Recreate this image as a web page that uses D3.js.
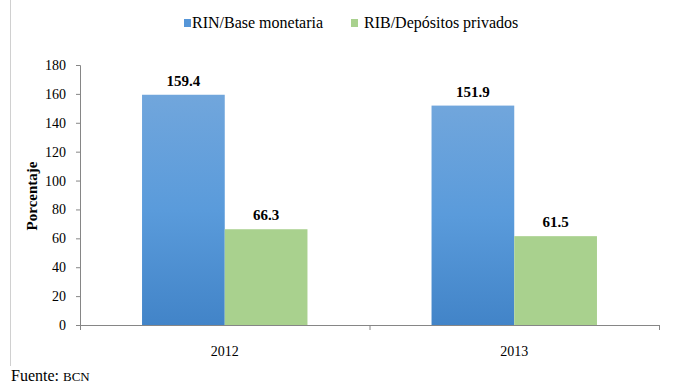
<!DOCTYPE html>
<html>
<head>
<meta charset="utf-8">
<script src="https://cdn.jsdelivr.net/npm/d3@7/dist/d3.min.js"></script>
<style>
  html, body { margin: 0; padding: 0; background: #fff; }
  svg { display: block; }
  text { font-family: "Liberation Serif", "DejaVu Serif", serif; fill: #000; }
</style>
</head>
<body>
<svg id="chart" width="683" height="385"></svg>
<script>
// Reservas internacionales: cobertura por año
const years = ["2012", "2013"];
const seriesNames = ["RIN/Base monetaria", "RIB/Depósitos privados"];
const rinBase = [159.4, 151.9];
const ribDepositos = [66.3, 61.5];
const yTicks = [0, 20, 40, 60, 80, 100, 120, 140, 160, 180];

const svg = d3.select("#chart");
const margin = { left: 80, right: 24, top: 65, bottom: 60 };
const W = 683, H = 385;
const plotW = W - margin.left - margin.right;
const plotH = H - margin.top - margin.bottom;

// Vertical gradient for the first series
const defs = svg.append("defs");
const grad = defs.append("linearGradient")
  .attr("id", "blueGrad").attr("x1", 0).attr("y1", 0).attr("x2", 0).attr("y2", 1);
grad.append("stop").attr("offset", "0%").attr("stop-color", "#71a6dc");
grad.append("stop").attr("offset", "50%").attr("stop-color", "#5a9bdb");
grad.append("stop").attr("offset", "100%").attr("stop-color", "#4284c8");

const colors = ["url(#blueGrad)", "#a9d18e"];
const legendColors = ["#5696d8", "#a9d18e"];

// Thin frame line on the left edge
svg.append("line")
  .attr("x1", 10.5).attr("x2", 10.5).attr("y1", 0).attr("y2", 366)
  .attr("stroke", "#d0d0d0").attr("stroke-width", 1);

const g = svg.append("g").attr("transform", `translate(${margin.left},${margin.top})`);

const x0 = d3.scaleBand().domain(years).range([0, plotW]).paddingInner(0).paddingOuter(0);
const x1 = d3.scaleBand().domain(seriesNames).range([0, x0.bandwidth()]).paddingInner(0).paddingOuter(0.75);
const y = d3.scaleLinear().domain([0, 180]).range([plotH, 0]);

// Y axis
const yAxis = g.append("g").call(
  d3.axisLeft(y).tickValues(yTicks).tickSize(4).tickPadding(10)
).attr("font-family", null).attr("font-size", null);
yAxis.select(".domain").attr("stroke", "#868686");
yAxis.selectAll(".tick line").attr("stroke", "#868686");
yAxis.selectAll(".tick text").style("font-size", "14px");

// Bars
const data = years.map((yr, i) => ({ year: yr, values: [rinBase[i], ribDepositos[i]] }));
const groups = g.selectAll(".grp").data(data).enter().append("g")
  .attr("transform", d => `translate(${x0(d.year)},0)`);

const cells = d => d.values.map((v, k) => ({ name: seriesNames[k], v, k }));

groups.selectAll("rect").data(cells)
  .enter().append("rect")
  .attr("x", d => x1(d.name))
  .attr("width", x1.bandwidth())
  .attr("y", d => y(d.v))
  .attr("height", d => plotH - y(d.v))
  .attr("fill", d => colors[d.k]);

groups.selectAll("text.val").data(cells)
  .enter().append("text")
  .attr("class", "val")
  .attr("x", d => x1(d.name) + x1.bandwidth() / 2)
  .attr("y", d => y(d.v) - 9)
  .attr("text-anchor", "middle")
  .style("font-size", "15px").style("font-weight", "bold")
  .text(d => d.v.toFixed(1));

// X axis
const xAxisG = g.append("g").attr("transform", `translate(0,${plotH})`);
xAxisG.append("line").attr("x1", 0).attr("x2", plotW).attr("y1", 0.5).attr("y2", 0.5)
  .attr("stroke", "#868686");
[0, x0.bandwidth(), plotW].forEach(t => {
  xAxisG.append("line").attr("x1", t + 0.5).attr("x2", t + 0.5).attr("y1", 0).attr("y2", 5)
    .attr("stroke", "#868686");
});
xAxisG.selectAll("text.cat").data(years).enter().append("text")
  .attr("class", "cat")
  .attr("x", d => x0(d) + x0.bandwidth() / 2)
  .attr("y", 31)
  .attr("text-anchor", "middle")
  .style("font-size", "14px")
  .text(d => d);

// Y axis title
svg.append("text")
  .attr("transform", `translate(37,${margin.top + plotH / 2 + 1}) rotate(-90)`)
  .attr("text-anchor", "middle")
  .style("font-size", "15px").style("font-weight", "bold")
  .text("Porcentaje");

// Legend
const legendItems = [
  { name: seriesNames[0], color: legendColors[0], x: 184 },
  { name: seriesNames[1], color: legendColors[1], x: 351 }
];
const lg = svg.append("g");
legendItems.forEach((it, i) => {
  lg.append("rect").attr("x", it.x).attr("y", 19).attr("width", 7).attr("height", 8).attr("fill", it.color);
  lg.append("text").attr("x", it.x + (i === 0 ? 8 : 13)).attr("y", 28).style("font-size", "16px").text(it.name);
});

// Source note
const src = svg.append("text").attr("x", 11).attr("y", 381).style("font-size", "16px");
src.append("tspan").text("Fuente: ");
src.append("tspan").style("font-size", "13px").text("BCN");
</script>
</body>
</html>
